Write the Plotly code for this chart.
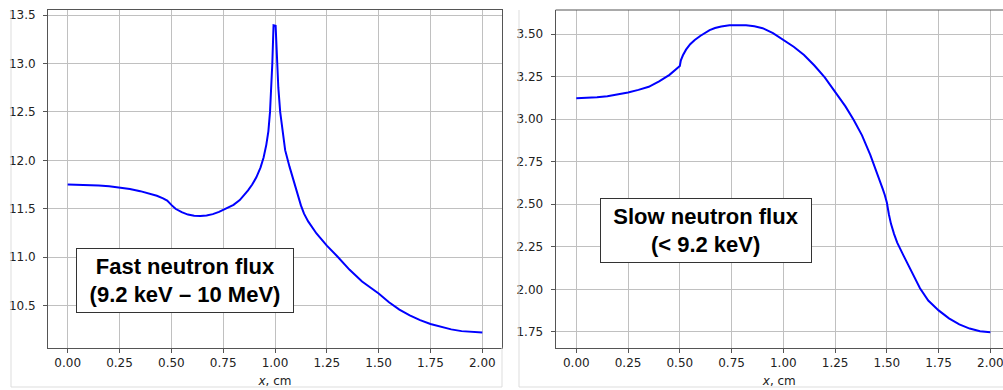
import plotly.graph_objects as go

# ---- data ----
fast_x = [0.00, 0.05, 0.10, 0.15, 0.20, 0.25, 0.30, 0.35, 0.40, 0.43, 0.46, 0.48, 0.50, 0.52,
          0.55, 0.58, 0.61, 0.64, 0.67, 0.70, 0.73, 0.76, 0.80, 0.83, 0.85, 0.87, 0.89, 0.91,
          0.93, 0.945, 0.958, 0.968, 0.976, 0.982, 0.987, 0.990, 0.993, 1.003, 1.006, 1.009,
          1.016, 1.025, 1.037, 1.049, 1.07, 1.09, 1.11, 1.125, 1.14, 1.16, 1.20, 1.25, 1.30,
          1.36, 1.42, 1.46, 1.50, 1.55, 1.60, 1.65, 1.70, 1.75, 1.80, 1.85, 1.90, 1.95, 2.00]
fast_y = [11.750, 11.749, 11.746, 11.740, 11.732, 11.720, 11.704, 11.682, 11.655, 11.635,
          11.608, 11.585, 11.540, 11.500, 11.465, 11.440, 11.428, 11.425, 11.430, 11.445,
          11.468, 11.497, 11.540, 11.590, 11.635, 11.690, 11.750, 11.825, 11.925, 12.030,
          12.160, 12.300, 12.500, 12.720, 13.000, 13.200, 13.395, 13.390, 13.200, 13.000,
          12.750, 12.500, 12.280, 12.105, 11.935, 11.785, 11.640, 11.535, 11.450, 11.370,
          11.245, 11.120, 11.010, 10.870, 10.750, 10.690, 10.625, 10.535, 10.460, 10.400,
          10.350, 10.310, 10.280, 10.255, 10.237, 10.226, 10.222]

slow_x = [0.00, 0.05, 0.10, 0.15, 0.20, 0.25, 0.30, 0.35, 0.40, 0.45, 0.50, 0.505, 0.515,
          0.53, 0.55, 0.572, 0.60, 0.62, 0.644, 0.67, 0.70, 0.74, 0.78, 0.82, 0.86, 0.90, 0.95,
          1.00, 1.05, 1.10, 1.15, 1.20, 1.25, 1.30, 1.34, 1.38, 1.42, 1.45, 1.48, 1.49, 1.50,
          1.51, 1.52, 1.535, 1.55, 1.58, 1.62, 1.66, 1.70, 1.75, 1.80, 1.85, 1.90, 1.95, 2.00]
slow_y = [3.123, 3.124, 3.128, 3.135, 3.145, 3.156, 3.172, 3.190, 3.222, 3.260, 3.312, 3.345,
          3.375, 3.408, 3.440, 3.465, 3.490, 3.505, 3.523, 3.535, 3.544, 3.551, 3.553, 3.551,
          3.545, 3.534, 3.505, 3.467, 3.425, 3.377, 3.315, 3.245, 3.162, 3.075, 2.995, 2.905,
          2.790, 2.695, 2.590, 2.555, 2.510, 2.440, 2.385, 2.325, 2.275, 2.200, 2.100, 2.007,
          1.935, 1.877, 1.830, 1.795, 1.770, 1.755, 1.749]

x_ticks = [0.0, 0.25, 0.5, 0.75, 1.0, 1.25, 1.5, 1.75, 2.0]
fast_ticks = [10.5, 11.0, 11.5, 12.0, 12.5, 13.0, 13.5]
slow_ticks = [1.75, 2.0, 2.25, 2.5, 2.75, 3.0, 3.25, 3.5]

label_fast = ["Fast neutron flux", "(9.2 keV – 10 MeV)"]
label_slow = ["Slow neutron flux", "(< 9.2 keV)"]
x_title = "<i>x</i>, cm"

W, H = 1003, 390


def px(v):
    return v / W


def py(v):
    return 1 - v / H


fig = go.Figure()
fig.add_trace(go.Scatter(x=fast_x, y=fast_y, mode="lines", xaxis="x", yaxis="y",
                         line=dict(color="#0000ff", width=2),
                         showlegend=False, hoverinfo="skip"))
fig.add_trace(go.Scatter(x=slow_x, y=slow_y, mode="lines", xaxis="x2", yaxis="y2",
                         line=dict(color="#0000ff", width=2),
                         showlegend=False, hoverinfo="skip"))

tickfont = dict(family="DejaVu Sans", size=12, color="#222")
titlefont = dict(family="DejaVu Sans", size=12, color="#222")
common = dict(showgrid=True, gridcolor="#c0c0c0", gridwidth=1, zeroline=False,
              showline=True, linecolor="#555", linewidth=1, ticks="outside", ticklen=4,
              tickcolor="#555", tickfont=tickfont, automargin=False, ticklabeloverflow="allow")

fig.update_layout(
    width=W, height=H, margin=dict(l=0, r=0, t=0, b=0, autoexpand=False),
    paper_bgcolor="white", plot_bgcolor="white",
    xaxis=dict(domain=[px(48), px(502)], range=[-0.095, 2.095], tickvals=x_ticks,
               tickformat=".2f", mirror=True, anchor="y",
               title=dict(text=x_title, font=titlefont, standoff=7), **common),
    yaxis=dict(domain=[py(347.7), py(10)], range=[10.066, 13.552], tickvals=fast_ticks,
               tickformat=".1f", mirror=True, anchor="x", ticklabelstandoff=5, **common),
    xaxis2=dict(domain=[px(555.6), 1.0], range=[-0.1, 2.061], tickvals=x_ticks,
                tickformat=".2f", mirror=False, anchor="y2",
                title=dict(text=x_title, font=titlefont, standoff=7), **common),
    yaxis2=dict(domain=[py(348), py(10)], range=[1.656, 3.641], tickvals=slow_ticks,
                tickformat=".2f", mirror=False, anchor="x2", ticklabelstandoff=5, **common),
)

# top spine of right panel
fig.add_shape(type="line", xref="paper", yref="paper", x0=px(555.6), x1=1.0, y0=py(10), y1=py(10),
              line=dict(color="#555", width=1))

# light image borders
border = dict(color="#dddddd", width=1)
fig.add_shape(type="line", xref="paper", yref="paper", x0=px(11), x1=px(11), y0=py(387), y1=py(10), line=border)
fig.add_shape(type="line", xref="paper", yref="paper", x0=px(11), x1=px(502), y0=py(387), y1=py(387), line=border)
fig.add_shape(type="line", xref="paper", yref="paper", x0=px(502), x1=px(502), y0=py(387), y1=py(347.7), line=border)
fig.add_shape(type="line", xref="paper", yref="paper", x0=px(519), x1=px(519), y0=py(387), y1=py(10), line=border)
fig.add_shape(type="line", xref="paper", yref="paper", x0=px(519), x1=1.0, y0=py(387), y1=py(387), line=border)

box_font = dict(family="Liberation Sans", size=22, color="black")


def bold_lines(lines):
    return "<br>".join("<b>" + s + "</b>" for s in lines)


fig.add_annotation(text=bold_lines(label_fast),
                   xref="paper", yref="paper", x=px(185), y=py(280), xanchor="center", yanchor="middle",
                   showarrow=False, font=box_font, align="center", bgcolor="white",
                   bordercolor="#333", borderwidth=1, borderpad=2, width=212, height=59)
fig.add_annotation(text=bold_lines(label_slow),
                   xref="paper", yref="paper", x=px(705.5), y=py(230.5), xanchor="center", yanchor="middle",
                   showarrow=False, font=box_font, align="center", bgcolor="white",
                   bordercolor="#333", borderwidth=1, borderpad=2, width=206, height=59)

fig.write_html("out.html", config={"displayModeBar": False},
               post_script="document.body.style.margin='0px';document.body.style.overflow='hidden';")
